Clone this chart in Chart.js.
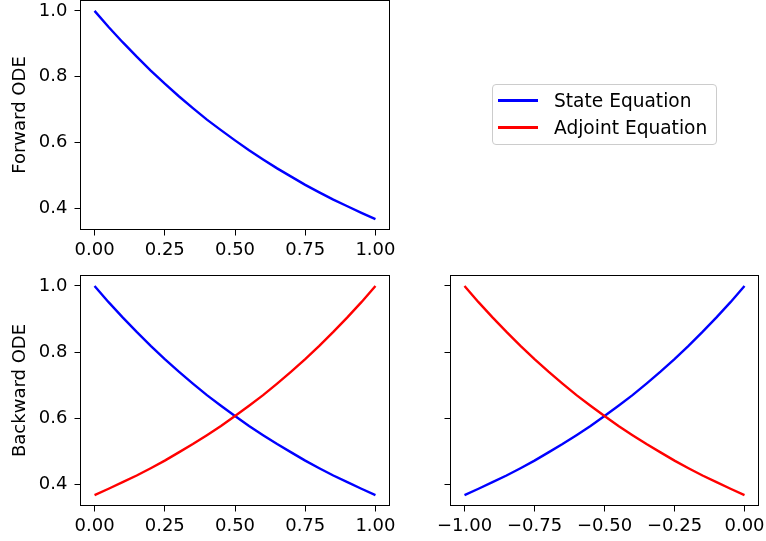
<!DOCTYPE html>
<html>
<head>
<meta charset="utf-8">
<script src="https://cdn.jsdelivr.net/npm/chart.js@4"></script>
<style>
  html, body { margin: 0; padding: 0; background: #fff; }
  #wrap { position: relative; width: 766px; height: 541px; overflow: hidden; }
  #wrap canvas { position: absolute; left: 0; top: 0; }
  #legend {
    position: absolute; left: 492px; top: 84px; width: 225px; height: 61px;
    box-sizing: border-box; border: 1px solid #ccc; border-radius: 4px;
    background: rgba(255, 255, 255, 0.8); padding-top: 2px;
    font: 18.6px "DejaVu Sans", sans-serif; color: #000;
  }
  #legend .row { display: flex; align-items: center; height: 27px; }
  #legend .swatch { width: 40px; height: 2.4px; margin-left: 5px; margin-right: 16px; }
</style>
</head>
<body>
<div id="wrap">
  <canvas id="fwd" width="766" height="541"></canvas>
  <canvas id="bwdT" width="766" height="541"></canvas>
  <canvas id="bwdTau" width="766" height="541"></canvas>
  <div id="legend"></div>
</div>
<script>
// time grids
const tForward = [0, 0.05, 0.1, 0.15, 0.2, 0.25, 0.3, 0.35, 0.4, 0.45, 0.5,
                  0.55, 0.6, 0.65, 0.7, 0.75, 0.8, 0.85, 0.9, 0.95, 1];
const tBackward = [-1, -0.95, -0.9, -0.85, -0.8, -0.75, -0.7, -0.65, -0.6, -0.55, -0.5,
                   -0.45, -0.4, -0.35, -0.3, -0.25, -0.2, -0.15, -0.1, -0.05, 0];

// state and adjoint on t in [0, 1]
const stateT = [1.000, 0.951, 0.905, 0.861, 0.819, 0.779, 0.741, 0.705, 0.670, 0.638, 0.607,
                0.577, 0.549, 0.522, 0.497, 0.472, 0.449, 0.427, 0.407, 0.387, 0.368];
const adjointT = [0.368, 0.387, 0.407, 0.427, 0.449, 0.472, 0.497, 0.522, 0.549, 0.577, 0.607,
                  0.638, 0.670, 0.705, 0.741, 0.779, 0.819, 0.861, 0.905, 0.951, 1.000];

// same solutions on reversed time tau in [-1, 0]
const stateTau = [0.368, 0.387, 0.407, 0.427, 0.449, 0.472, 0.497, 0.522, 0.549, 0.577, 0.607,
                  0.638, 0.670, 0.705, 0.741, 0.779, 0.819, 0.861, 0.905, 0.951, 1.000];
const adjointTau = [1.000, 0.951, 0.905, 0.861, 0.819, 0.779, 0.741, 0.705, 0.670, 0.638, 0.607,
                    0.577, 0.549, 0.522, 0.497, 0.472, 0.449, 0.427, 0.407, 0.387, 0.368];

const xTicksForward = [0, 0.25, 0.5, 0.75, 1];
const xTicksBackward = [-1, -0.75, -0.5, -0.25, 0];
const yTicks = [0.4, 0.6, 0.8, 1.0];

const STATE = 'State Equation', ADJOINT = 'Adjoint Equation';
const BLUE = '#0000ff', RED = '#ff0000';

const W = 766, H = 541;
const X_AXIS_H = 40;

Chart.defaults.font.family = '"DejaVu Sans", sans-serif';
Chart.defaults.font.size = 18;
Chart.defaults.color = '#000';

const fmtX = v => v.toFixed(2).replace('-', '\u2212');
const fmtY = v => v.toFixed(1);

// matplotlib-like box around the axes
const frame = {
  id: 'frame',
  afterDatasetsDraw(chart) {
    const a = chart.chartArea, ctx = chart.ctx;
    ctx.save();
    ctx.strokeStyle = '#000';
    ctx.lineWidth = 1;
    ctx.strokeRect(a.left, a.top, a.right - a.left, a.bottom - a.top);
    ctx.restore();
  }
};

function limits(vals) {
  const lo = Math.min(...vals), hi = Math.max(...vals);
  const m = 0.05 * (hi - lo);
  return [lo - m, hi + m];
}

function makePanel(id, area, xs, xTicks, series, yTitle, showYLabels) {
  const [xMin, xMax] = limits(xs);
  const [yMin, yMax] = limits(series.flatMap(s => s.values));
  return new Chart(document.getElementById(id), {
    type: 'line',
    data: {
      // later series drawn on top, as in the plotting order
      datasets: series.map((s, i) => ({
        label: s.label,
        data: xs.map((x, j) => ({ x, y: s.values[j] })),
        borderColor: s.color,
        borderWidth: 2.4,
        pointRadius: 0,
        fill: false,
        order: series.length - i
      }))
    },
    options: {
      responsive: false,
      animation: false,
      layout: { padding: { left: 0, top: area.top, right: W - area.right, bottom: H - area.bottom - X_AXIS_H } },
      plugins: { legend: { display: false }, tooltip: { enabled: false } },
      scales: {
        x: {
          type: 'linear', min: xMin, max: xMax,
          afterBuildTicks: ax => { ax.ticks = xTicks.map(value => ({ value })); },
          afterFit: ax => { ax.height = X_AXIS_H; ax.paddingLeft = 0; ax.paddingRight = 0; },
          grid: { drawOnChartArea: false, tickLength: 6, tickColor: '#000' },
          border: { display: false },
          ticks: { callback: fmtX, padding: 4, maxRotation: 0, autoSkip: false }
        },
        y: {
          type: 'linear', min: yMin, max: yMax,
          afterBuildTicks: ax => { ax.ticks = yTicks.map(value => ({ value })); },
          afterFit: ax => { ax.width = area.left; ax.paddingTop = 0; ax.paddingBottom = 0; },
          grid: { drawOnChartArea: false, tickLength: 6, tickColor: '#000' },
          border: { display: false },
          ticks: { display: showYLabels, callback: fmtY, padding: 7, autoSkip: false },
          title: { display: !!yTitle, text: yTitle || '', padding: { top: 10, bottom: 0 } }
        }
      }
    },
    plugins: [frame]
  });
}

makePanel('fwd', { left: 80.5, top: 0.5, right: 389.5, bottom: 229.5 },
  tForward, xTicksForward,
  [{ label: STATE, values: stateT, color: BLUE }],
  'Forward ODE', true);

const backward = makePanel('bwdT', { left: 80.5, top: 275.5, right: 389.5, bottom: 505.5 },
  tForward, xTicksForward,
  [{ label: STATE, values: stateT, color: BLUE }, { label: ADJOINT, values: adjointT, color: RED }],
  'Backward ODE', true);

makePanel('bwdTau', { left: 450.5, top: 275.5, right: 758.5, bottom: 505.5 },
  tBackward, xTicksBackward,
  [{ label: STATE, values: stateTau, color: BLUE }, { label: ADJOINT, values: adjointTau, color: RED }],
  null, false);

// legend entries from the backward panel's datasets
const legend = document.getElementById('legend');
backward.data.datasets.forEach(ds => {
  const row = document.createElement('div');
  row.className = 'row';
  const sw = document.createElement('span');
  sw.className = 'swatch';
  sw.style.background = ds.borderColor;
  const txt = document.createElement('span');
  txt.textContent = ds.label;
  row.appendChild(sw);
  row.appendChild(txt);
  legend.appendChild(row);
});
</script>
</body>
</html>
